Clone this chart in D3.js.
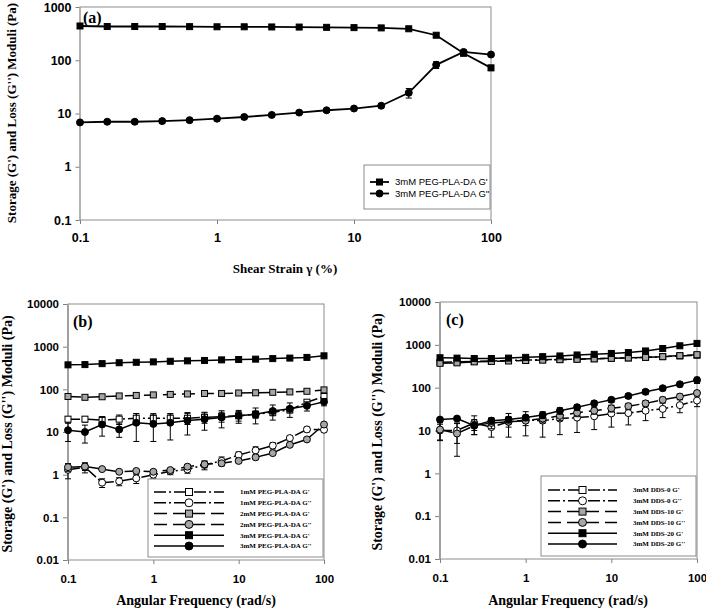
<!DOCTYPE html>
<html>
<head>
<meta charset="utf-8">
<script src="https://cdn.jsdelivr.net/npm/d3@7"></script>
<style>
  body { margin: 0; background: #fff; }
  svg { display: block; }
</style>
</head>
<body>
<svg id="fig" width="706" height="611"></svg>
<script>
// x values: strain (%) or angular frequency (rad/s), 5 points per decade
const xVals = [0.1, 0.158, 0.251, 0.398, 0.631, 1, 1.58, 2.51, 3.98, 6.31, 10, 15.8, 25.1, 39.8, 63.1, 100];

// (a) strain sweep, 3mM PEG-PLA-DA
const strainGp = [440, 430, 430, 430, 428, 425, 425, 422, 420, 415, 410, 405, 390, 295, 135, 72];
const strainGpErr = [10, 8, 8, 8, 8, 8, 8, 8, 8, 8, 8, 8, 12, 20, 12, 8];
const strainGpp = [6.8, 7.0, 7.0, 7.2, 7.5, 8.0, 8.6, 9.4, 10.4, 11.5, 12.4, 14, 24.5, 82, 143, 128];
const strainGppErr = [0.5, 0.5, 0.6, 0.6, 0.6, 0.7, 0.7, 0.7, 0.8, 0.9, 0.9, 1, 5, 12, 10, 8];

// (b) frequency sweep, PEG-PLA-DA concentration
const peg1Gp = [20, 20, 19, 20, 21, 21, 21, 21, 22, 23, 24, 26, 29, 33, 50, 68];
const peg1GpErr = [3, 3, 4, 5, 6, 6, 6, 6, 6, 6, 6, 5, 5, 5, 6, 8];
const peg1Gpp = [1.3, 1.5, 0.65, 0.7, 0.82, 1.0, 1.2, 1.33, 1.7, 2.1, 2.9, 3.7, 4.8, 7.2, 11.5, 11.3];
const peg1GppErr = [0.5, 0.4, 0.15, 0.15, 0.2, 0.2, 0.2, 0.25, 0.4, 0.5, 0.5, 0.8, 0.8, 1, 1.5, 1.5];
const peg2Gp = [68, 65, 67, 70, 72, 74, 76, 78, 80, 80, 82, 83, 85, 87, 90, 97];
const peg2GpErr = [3, 3, 3, 3, 3, 3, 3, 3, 3, 3, 3, 3, 4, 4, 5, 10];
const peg2Gpp = [1.5, 1.55, 1.35, 1.17, 1.22, 1.17, 1.28, 1.54, 1.75, 1.85, 2.1, 2.55, 3.2, 5.0, 6.7, 15];
const peg2GppErr = [0.3, 0.3, 0.1, 0.1, 0.1, 0.1, 0.1, 0.2, 0.3, 0.2, 0.2, 0.3, 0.3, 0.4, 0.5, 1];
const peg3Gp = [375, 380, 400, 420, 430, 440, 455, 465, 475, 490, 500, 510, 525, 540, 560, 610];
const peg3GpErr = [8, 8, 8, 8, 8, 8, 8, 8, 8, 8, 8, 8, 8, 8, 10, 12];
const peg3Gpp = [11, 10, 15, 11.5, 16.5, 15.5, 16.5, 18.5, 20, 22, 24, 26, 31, 35, 41, 51];
const peg3GppErr = [5, 4.5, 7, 4, 10.5, 9.5, 10, 10, 9, 9.5, 8, 10.5, 12, 13, 10, 10];

// (c) frequency sweep, DDS content
const dds0Gp = [390, 400, 410, 420, 430, 440, 450, 455, 465, 475, 485, 495, 510, 530, 550, 570];
const dds0GpErr = [8, 8, 8, 8, 8, 8, 8, 8, 8, 8, 8, 8, 8, 8, 10, 10];
const dds0Gpp = [10, 10, 15, 12, 16, 17.5, 17, 19, 20, 21.5, 25, 25.5, 29, 32, 39, 50];
const dds0GppErr = [4, 5, 7, 5, 9, 10, 10, 11, 11, 11, 13, 12, 12, 12, 13, 14];
const dds10Gp = [370, 380, 400, 410, 420, 430, 440, 450, 460, 470, 485, 495, 510, 530, 560, 590];
const dds10GpErr = [8, 8, 8, 8, 8, 8, 8, 8, 8, 8, 8, 8, 8, 8, 10, 10];
const dds10Gpp = [10.5, 8.5, 13, 15, 16, 17, 19, 22, 26, 29, 33, 37, 43, 52, 62, 75];
const dds10GppErr = [4.7, 6, 5, 4, 4, 4, 4, 5, 5, 5, 6, 6, 7, 8, 9, 10];
const dds20Gp = [500, 490, 480, 480, 490, 510, 530, 550, 580, 600, 630, 660, 720, 820, 950, 1080];
const dds20GpErr = [10, 10, 10, 10, 10, 10, 10, 10, 10, 12, 12, 14, 15, 20, 25, 30];
const dds20Gpp = [18, 19, 13, 17, 18, 20, 23, 29, 35, 43, 52, 64, 80, 97, 120, 150];
const dds20GppErr = [2, 2, 3, 3, 3, 3, 4, 5, 5, 6, 7, 8, 10, 12, 15, 25];

const xTicks = [0.1, 1, 10, 100];
const yTicksA = [0.1, 1, 10, 100, 1000];
const yTicksBC = [0.01, 0.1, 1, 10, 100, 1000, 10000];

const yTitle = "Storage (G') and Loss (G'') Moduli (Pa)";
const GRAY = '#a6a6a6';
const DASH_1 = '12,3,2,3';
const DASH_2 = '13,6';

const svg = d3.select('#fig');

const drawMarker = (g, shape, cx, cy, size, fill) => {
  if (shape === 'square') {
    g.append('rect')
      .attr('x', cx - size / 2).attr('y', cy - size / 2)
      .attr('width', size).attr('height', size)
      .attr('fill', fill).attr('stroke', '#000').attr('stroke-width', 1);
  } else {
    g.append('circle')
      .attr('cx', cx).attr('cy', cy).attr('r', size / 2 + 0.5)
      .attr('fill', fill).attr('stroke', '#000').attr('stroke-width', 1);
  }
};

const panel = (props) => {
  const {
    xRange, yRange, yDomain, yTicks, tag, tagPos,
    xTitle, xTitlePos, yTitlePos, titleSize, xPad,
    tickFont, tickSize, series, legend, leftAxisW, markSize, lineW
  } = props;

  const x = d3.scaleLog().domain([0.1, 100]).range(xRange);
  const y = d3.scaleLog().domain(yDomain).range(yRange);
  const g = svg.append('g');

  // frame
  g.append('rect')
    .attr('x', xRange[0]).attr('y', yRange[1])
    .attr('width', xRange[1] - xRange[0]).attr('height', yRange[0] - yRange[1])
    .attr('fill', 'none').attr('stroke', '#8c8c8c').attr('stroke-width', 1);
  g.append('line')
    .attr('x1', xRange[0]).attr('x2', xRange[0])
    .attr('y1', yRange[1]).attr('y2', yRange[0] + 1)
    .attr('stroke', '#a0a0a0').attr('stroke-width', leftAxisW);

  // axes
  const yAxis = d3.axisLeft(y)
    .tickValues(yTicks)
    .tickFormat(d => String(d))
    .tickSizeInner(4).tickSizeOuter(0).tickPadding(4);
  const yAxisG = g.append('g')
    .attr('transform', `translate(${xRange[0] - leftAxisW / 2},0)`)
    .call(yAxis);
  const xAxis = d3.axisBottom(x)
    .tickValues(xTicks)
    .tickFormat(d => String(d))
    .tickSizeInner(4).tickSizeOuter(0).tickPadding(xPad);
  const xAxisG = g.append('g')
    .attr('transform', `translate(0,${yRange[0]})`)
    .call(xAxis);
  [yAxisG, xAxisG].forEach(a => {
    a.select('.domain').remove();
    a.selectAll('.tick line').attr('stroke', '#808080');
    a.selectAll('.tick text')
      .attr('fill', '#000')
      .attr('font-family', tickFont)
      .attr('font-weight', 'bold')
      .attr('font-size', tickSize);
  });

  // series: error bars, line, markers
  const line = d3.line().x((d, i) => x(xVals[i])).y(d => y(d));
  series.forEach(s => {
    const sg = g.append('g');
    s.values.forEach((v, i) => {
      const sd = s.err[i];
      const lo = v - sd > yDomain[0] ? y(v - sd) : yRange[0];
      const hi = y(v + sd);
      const cx = x(xVals[i]);
      sg.append('line').attr('x1', cx).attr('x2', cx).attr('y1', lo).attr('y2', hi)
        .attr('stroke', '#000').attr('stroke-width', 1);
      [lo, hi].forEach(yy => {
        if (yy < yRange[0] - 0.5) {
          sg.append('line').attr('x1', cx - 3).attr('x2', cx + 3).attr('y1', yy).attr('y2', yy)
            .attr('stroke', '#000').attr('stroke-width', 1);
        }
      });
    });
    sg.append('path')
      .attr('d', line(s.values))
      .attr('fill', 'none')
      .attr('stroke', '#000')
      .attr('stroke-width', lineW)
      .attr('stroke-dasharray', s.dash || null);
    s.values.forEach((v, i) => drawMarker(sg, s.shape, x(xVals[i]), y(v), markSize, s.fill));
  });

  // tag, titles
  g.append('text')
    .attr('x', tagPos[0]).attr('y', tagPos[1])
    .attr('font-family', 'Liberation Serif').attr('font-weight', 'bold')
    .attr('font-size', 16).text(tag);
  g.append('text')
    .attr('x', xTitlePos[0]).attr('y', xTitlePos[1])
    .attr('text-anchor', 'middle')
    .attr('font-family', 'Liberation Serif').attr('font-weight', 'bold')
    .attr('font-size', titleSize).text(xTitle);
  g.append('text')
    .attr('transform', `translate(${yTitlePos[0]},${yTitlePos[1]}) rotate(-90)`)
    .attr('text-anchor', 'middle')
    .attr('font-family', 'Liberation Serif').attr('font-weight', 'bold')
    .attr('font-size', titleSize).text(yTitle);

  // legend
  const L = legend;
  const lg = g.append('g');
  lg.append('rect')
    .attr('x', L.box[0]).attr('y', L.box[1]).attr('width', L.box[2]).attr('height', L.box[3])
    .attr('fill', '#fff').attr('stroke', '#8c8c8c').attr('stroke-width', 1);
  series.forEach((s, i) => {
    const yy = L.y0 + i * L.dy;
    lg.append('line')
      .attr('x1', L.line[0]).attr('x2', L.line[1]).attr('y1', yy).attr('y2', yy)
      .attr('stroke', '#000').attr('stroke-width', lineW)
      .attr('stroke-dasharray', s.dash || null);
    drawMarker(lg, s.shape, (L.line[0] + L.line[1]) / 2, yy, L.markSize, s.fill);
    lg.append('text')
      .attr('x', L.textX).attr('y', yy).attr('dy', '0.35em')
      .attr('font-family', L.font).attr('font-weight', L.weight)
      .attr('font-size', L.size).text(s.label);
  });
};

// (a)
panel({
  xRange: [80, 491], yRange: [220, 7], yDomain: [0.1, 1000], yTicks: yTicksA,
  tag: '(a)', tagPos: [83, 23],
  xTitle: 'Shear Strain \u03b3 (%)', xTitlePos: [285, 273], yTitlePos: [16, 113], titleSize: 13,
  xPad: 9,
  tickFont: "'Liberation Sans Narrow', 'Liberation Sans', sans-serif", tickSize: 12.5,
  leftAxisW: 1, markSize: 6, lineW: 1.8,
  series: [
    { values: strainGp, err: strainGpErr, shape: 'square', fill: '#000', label: "3mM PEG-PLA-DA G'" },
    { values: strainGpp, err: strainGppErr, shape: 'circle', fill: '#000', label: "3mM PEG-PLA-DA G''" }
  ],
  legend: {
    box: [364, 165, 126, 44], y0: 182, dy: 11.5, line: [370, 389], textX: 395,
    markSize: 6, font: "'Liberation Sans Narrow', 'Liberation Sans', sans-serif", weight: 'normal', size: 9.5
  }
});

// (b)
panel({
  xRange: [68, 324], yRange: [560, 304], yDomain: [0.01, 10000], yTicks: yTicksBC,
  tag: '(b)', tagPos: [73, 327],
  xTitle: 'Angular Frequency (rad/s)', xTitlePos: [196, 605], yTitlePos: [12, 434], titleSize: 14,
  xPad: 11,
  tickFont: "'Liberation Sans', sans-serif", tickSize: 11.5,
  leftAxisW: 2, markSize: 6, lineW: 1.5,
  series: [
    { values: peg1Gp, err: peg1GpErr, shape: 'square', fill: '#fff', dash: DASH_1, label: "1mM PEG-PLA-DA G'" },
    { values: peg1Gpp, err: peg1GppErr, shape: 'circle', fill: '#fff', dash: DASH_1, label: "1mM PEG-PLA-DA G''" },
    { values: peg2Gp, err: peg2GpErr, shape: 'square', fill: GRAY, dash: DASH_2, label: "2mM PEG-PLA-DA G'" },
    { values: peg2Gpp, err: peg2GppErr, shape: 'circle', fill: GRAY, dash: DASH_2, label: "2mM PEG-PLA-DA G''" },
    { values: peg3Gp, err: peg3GpErr, shape: 'square', fill: '#000', label: "3mM PEG-PLA-DA G'" },
    { values: peg3Gpp, err: peg3GppErr, shape: 'circle', fill: '#000', label: "3mM PEG-PLA-DA G''" }
  ],
  legend: {
    box: [148, 479, 175, 78], y0: 492, dy: 10.8, line: [154, 224], textX: 240,
    markSize: 7, font: "'Liberation Serif', serif", weight: 'bold', size: 7
  }
});

// (c)
panel({
  xRange: [440, 697], yRange: [559, 302], yDomain: [0.01, 10000], yTicks: yTicksBC,
  tag: '(c)', tagPos: [446, 325],
  xTitle: 'Angular Frequency (rad/s)', xTitlePos: [568, 605], yTitlePos: [382, 432], titleSize: 14,
  xPad: 11,
  tickFont: "'Liberation Sans', sans-serif", tickSize: 11.5,
  leftAxisW: 2, markSize: 6, lineW: 1.5,
  series: [
    { values: dds0Gp, err: dds0GpErr, shape: 'square', fill: '#fff', dash: DASH_1, label: "3mM DDS-0 G'" },
    { values: dds0Gpp, err: dds0GppErr, shape: 'circle', fill: '#fff', dash: DASH_1, label: "3mM DDS-0 G''" },
    { values: dds10Gp, err: dds10GpErr, shape: 'square', fill: GRAY, dash: DASH_2, label: "3mM DDS-10 G'" },
    { values: dds10Gpp, err: dds10GppErr, shape: 'circle', fill: GRAY, dash: DASH_2, label: "3mM DDS-10 G''" },
    { values: dds20Gp, err: dds20GpErr, shape: 'square', fill: '#000', label: "3mM DDS-20 G'" },
    { values: dds20Gpp, err: dds20GppErr, shape: 'circle', fill: '#000', label: "3mM DDS-20 G''" }
  ],
  legend: {
    box: [541, 476, 155, 80], y0: 490, dy: 10.8, line: [548, 617], textX: 633,
    markSize: 7, font: "'Liberation Serif', serif", weight: 'bold', size: 7
  }
});
</script>
</body>
</html>
